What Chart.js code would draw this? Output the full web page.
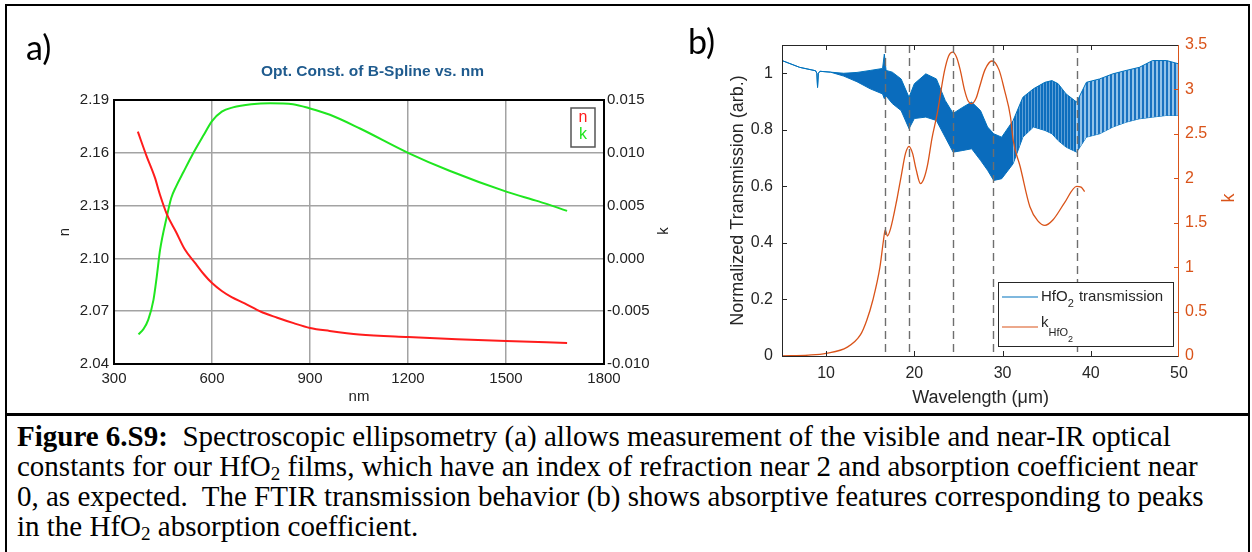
<!DOCTYPE html>
<html>
<head>
<meta charset="utf-8">
<script src="https://cdn.jsdelivr.net/npm/chart.js@4.4.1/dist/chart.umd.min.js"></script>
<style>
  html, body { margin: 0; padding: 0; background: #fff; }
  #page { position: relative; width: 1252px; height: 552px; overflow: hidden; background: #fff; }
  #frame { position: absolute; left: 5px; top: 4px; width: 1245px; height: 600px; border: 2px solid #000; box-sizing: border-box; }
  #sep { position: absolute; left: 5px; top: 413px; width: 1245px; height: 3px; background: #000; }
  .tag { position: absolute; font-family: Lato, "Open Sans", sans-serif; font-size: 34px; line-height: 1; color: #000; }
  #boxA { position: absolute; left: 0; top: 0; width: 690px; height: 410px; }
  #boxB { position: absolute; left: 690px; top: 0; width: 562px; height: 410px; }
  #caption { position: absolute; left: 17px; top: 421px; width: 1230px; white-space: nowrap;
             font-family: "Liberation Serif", "Times New Roman", serif; font-size: 29px; line-height: 30px; color: #000; }
  #caption sub { font-size: 0.66em; vertical-align: -0.2em; line-height: 0; }
</style>
</head>
<body>
<div id="page">
  <div id="frame"></div>
  <div id="sep"></div>
  <div id="boxA"><canvas id="chartA"></canvas></div>
  <div id="boxB"><canvas id="chartB"></canvas></div>
  <div class="tag" style="left:26px;top:30px;">a)</div>
  <div class="tag" style="left:688px;top:24px;">b)</div>
  <div id="caption">
    <b>Figure 6.S9:</b>&nbsp; Spectroscopic ellipsometry (a) allows measurement of the visible and near-IR optical<br>
    constants for our HfO<sub>2</sub> films, which have an index of refraction near 2 and absorption coefficient near<br>
    0, as expected.&nbsp; The FTIR transmission behavior (b) shows absorptive features corresponding to peaks<br>
    in the HfO<sub>2</sub> absorption coefficient.
  </div>
</div>

<script>
// ---------- (a) ellipsometry: refractive index n and extinction k vs. wavelength (nm) ----------
const nmN   = [373, 400, 425, 441, 462, 490, 517, 550, 575, 600, 630, 660, 700, 750, 800, 850, 900, 960, 1050, 1200, 1350, 1500, 1687];
const nVals = [2.172, 2.158, 2.146, 2.136, 2.125, 2.115, 2.105, 2.097, 2.091, 2.086, 2.0815, 2.078, 2.0745, 2.0697, 2.0663, 2.0632, 2.0605, 2.0588, 2.0568, 2.0553, 2.0541, 2.0531, 2.052];

const nmK   = [375, 390, 405, 421, 431, 441, 462, 475, 490, 513, 538, 575, 600, 630, 664, 720, 778, 848, 900, 961, 1053, 1200, 1327, 1503, 1600, 1687];
const kVals = [-0.0072, -0.0067, -0.0058, -0.0039, -0.0017, 0.0008, 0.0040, 0.0057, 0.0068, 0.0082, 0.0097, 0.0117, 0.0130, 0.0139, 0.0143, 0.0146, 0.0147, 0.0146, 0.0142, 0.0136, 0.0123, 0.0100, 0.0083, 0.0063, 0.0054, 0.0045];

const nmTicks = [300, 600, 900, 1200, 1500, 1800];
const nTicks  = [2.04, 2.07, 2.10, 2.13, 2.16, 2.19];
const kTicks  = [-0.010, -0.005, 0.000, 0.005, 0.010, 0.015];

// ---------- (b) FTIR transmission and HfO2 extinction coefficient vs. wavelength (um) ----------
// Transmission: upper and lower envelope of the fringe band
const wlT    = [5, 7, 8.8, 8.95, 9.03, 9.12, 9.3, 10.5, 12, 13.5, 15, 16.4, 16.6, 16.8, 17.5, 18.5, 19.4, 20, 21.3, 22.5, 23.5, 24.4, 25.5, 26.5, 27.5, 28.3, 29.0, 29.9, 31.2, 32.3, 33.5, 34.8, 35.6, 36.3, 37.2, 38.4, 39.5, 41.0, 42.5, 44.0, 45.5, 47.0, 48.6, 50];
const tUpper = [1.045, 1.021, 1.009, 1.0, 0.95, 1.0, 1.007, 1.004, 1.0, 1.003, 1.01, 1.017, 1.068, 1.01, 1.004, 0.98, 0.915, 0.963, 0.998, 0.98, 0.904, 0.858, 0.88, 0.898, 0.868, 0.81, 0.786, 0.774, 0.833, 0.915, 0.945, 0.968, 0.974, 0.963, 0.927, 0.898, 0.968, 0.98, 0.998, 1.01, 1.021, 1.045, 1.045, 1.033];
const tLower = [1.045, 1.021, 1.009, 1.0, 0.95, 1.0, 1.007, 1.004, 0.99, 0.97, 0.945, 0.927, 0.91, 0.92, 0.893, 0.868, 0.804, 0.84, 0.845, 0.833, 0.774, 0.721, 0.727, 0.733, 0.692, 0.657, 0.621, 0.627, 0.68, 0.774, 0.81, 0.798, 0.786, 0.762, 0.739, 0.721, 0.774, 0.786, 0.81, 0.827, 0.839, 0.845, 0.851, 0.851];

const wlK = [5, 8, 10, 12.4, 13.9, 14.6, 15.3, 16.1, 16.5, 16.7, 16.95, 17.3, 18.0, 18.5, 19.0, 19.4, 19.8, 20.2, 20.7, 21.1, 21.5, 22.0, 22.6, 23.4, 23.9, 24.35, 24.8, 25.2, 25.7, 26.1, 26.5, 27.0, 27.4, 28.0, 28.8, 29.6, 30.2, 30.9, 31.2, 32.0, 33.1, 34.0, 34.8, 35.7, 37.0, 38.4, 38.9, 39.3];
const kIR = [0, 0.01, 0.03, 0.1, 0.24, 0.4, 0.63, 1.0, 1.3, 1.42, 1.35, 1.43, 1.75, 2.02, 2.28, 2.36, 2.28, 2.1, 1.94, 2.0, 2.15, 2.45, 2.73, 3.2, 3.38, 3.42, 3.36, 3.22, 2.99, 2.87, 2.84, 2.9, 3.03, 3.22, 3.32, 3.22, 3.0, 2.69, 2.43, 2.13, 1.68, 1.52, 1.47, 1.53, 1.72, 1.91, 1.9, 1.85];

// absorption-peak markers (um)
const peakLines = [16.7, 19.45, 24.4, 28.9, 38.4];

const wlTicks    = [10, 20, 30, 40, 50];
const transTicks = [0, 0.2, 0.4, 0.6, 0.8, 1];
const kirTicks   = [0, 0.5, 1, 1.5, 2, 2.5, 3, 3.5];

const pts = (xs, ys) => xs.map((x, i) => ({ x: x, y: ys[i] }));
const fixTicks = arr => scale => { scale.ticks = arr.map(v => ({ value: v })); };

Chart.defaults.font.family = '"Liberation Sans", Arial, sans-serif';
Chart.defaults.animation = false;

// ---------- panel (a) ----------
const RED = '#ff1c1c', GREEN = '#1fe61f';
const INK_A = '#222';

const frameA = {
  id: 'frameA',
  afterDraw(chart) {
    const { ctx, chartArea: a } = chart;
    ctx.save();
    ctx.strokeStyle = '#000';
    ctx.lineWidth = 2;
    ctx.strokeRect(a.left, a.top, a.right - a.left, a.bottom - a.top);

    // legend box in the upper-right corner
    ctx.strokeStyle = '#555';
    ctx.lineWidth = 1.5;
    ctx.fillStyle = '#fff';
    ctx.fillRect(571, 108, 24, 39);
    ctx.strokeRect(571, 108, 24, 39);
    ctx.font = '16px "Liberation Sans", Arial, sans-serif';
    ctx.textAlign = 'center';
    ctx.textBaseline = 'middle';
    chart.data.datasets.forEach((ds, i) => {
      ctx.fillStyle = ds.borderColor;
      ctx.fillText(ds.label, 583, 118 + i * 17);
    });

    // right-hand axis title
    ctx.translate(664, 231);
    ctx.rotate(-Math.PI / 2);
    ctx.fillStyle = INK_A;
    ctx.font = '15px "Liberation Sans", Arial, sans-serif';
    ctx.fillText('k', 0, 0);
    ctx.restore();
  }
};

new Chart(document.getElementById('chartA'), {
  type: 'line',
  data: {
    datasets: [
      { label: 'n', data: pts(nmN, nVals), yAxisID: 'yN', borderColor: RED, borderWidth: 2, pointRadius: 0, cubicInterpolationMode: 'monotone' },
      { label: 'k', data: pts(nmK, kVals), yAxisID: 'yK', borderColor: GREEN, borderWidth: 2, pointRadius: 0, cubicInterpolationMode: 'monotone' }
    ]
  },
  options: {
    responsive: true, maintainAspectRatio: false, devicePixelRatio: 1,
    layout: { padding: { left: 55, top: 50, right: 0, bottom: 0 } },
    plugins: {
      legend: { display: false },
      tooltip: { enabled: false },
      title: {
        display: true, text: 'Opt. Const. of B-Spline vs. nm', color: '#1f5b8e',
        font: { size: 15.5, weight: 'bold' }, padding: { top: 12.7, bottom: 18.7 }
      }
    },
    scales: {
      x: {
        type: 'linear', min: 300, max: 1800,
        afterBuildTicks: fixTicks(nmTicks),
        afterFit: s => { s.height = 46; },
        grid: { color: '#a3a3a3', lineWidth: 1.5, drawTicks: false },
        border: { display: false },
        ticks: { padding: 6, color: INK_A, font: { size: 15 }, maxRotation: 0, callback: v => String(v) },
        title: { display: true, text: 'nm', color: INK_A, font: { size: 15 }, padding: { bottom: 4 } }
      },
      yN: {
        position: 'left', min: 2.04, max: 2.19,
        afterBuildTicks: fixTicks(nTicks),
        afterFit: s => { s.width = 59; },
        grid: { color: '#a3a3a3', lineWidth: 1.5, drawTicks: false },
        border: { display: false },
        ticks: { padding: 5, color: INK_A, font: { size: 15 }, callback: v => v.toFixed(2) },
        title: { display: true, text: 'n', color: INK_A, font: { size: 15 }, padding: { top: 1 } }
      },
      yK: {
        position: 'right', min: -0.010, max: 0.015,
        afterBuildTicks: fixTicks(kTicks),
        afterFit: s => { s.width = 86; },
        grid: { display: false, drawTicks: false },
        border: { display: false },
        ticks: { padding: 3, color: INK_A, font: { size: 15 }, callback: v => v.toFixed(3) }
      }
    }
  },
  plugins: [frameA]
});

// ---------- panel (b) ----------
const BLUE = '#0072BD', ORANGE = '#D95319', AXIS = '#262626';
const BAND = '#0a6cbd';

// vertical fringe texture for the resolved part of the transmission band
const patterns = {};
function stripes(ctx, key, period, darkW, dark, light) {
  if (!patterns[key]) {
    const c = document.createElement('canvas');
    c.width = period; c.height = 8;
    const g = c.getContext('2d');
    g.fillStyle = light; g.fillRect(0, 0, period, 8);
    g.fillStyle = dark;  g.fillRect(0, 0, darkW, 8);
    patterns[key] = ctx.createPattern(c, 'repeat');
  }
  return patterns[key];
}
const bandSegment = s => {
  const x0 = s.p0.parsed.x;
  if (x0 >= 38.4) return stripes(s.chart.ctx, 'open', 4, 2, '#1a72c0', '#93c3e9');
  if (x0 >= 31.2) return stripes(s.chart.ctx, 'tight', 3, 2, '#0d6ebe', '#5d9fd6');
  return undefined;
};

const decorB = {
  id: 'decorB',
  afterDatasetsDraw(chart) {
    const { ctx, chartArea: a, scales } = chart;
    const xs = scales.x, yT = scales.yT, yK = scales.yK;
    ctx.save();
    // dashed markers at the absorption peaks
    ctx.strokeStyle = '#6e6e6e';
    ctx.lineWidth = 1.4;
    ctx.setLineDash([8, 5]);
    peakLines.forEach(w => {
      const x = Math.round(xs.getPixelForValue(w)) + 0.5;
      ctx.beginPath(); ctx.moveTo(x, a.top); ctx.lineTo(x, a.bottom); ctx.stroke();
    });
    ctx.setLineDash([]);

    // axes box
    ctx.lineWidth = 1;
    ctx.strokeStyle = AXIS;
    ctx.beginPath();
    ctx.moveTo(a.left + 0.5, a.top + 0.5); ctx.lineTo(a.right, a.top + 0.5);
    ctx.moveTo(a.left + 0.5, a.top); ctx.lineTo(a.left + 0.5, a.bottom + 0.5);
    ctx.moveTo(a.left, a.bottom + 0.5); ctx.lineTo(a.right, a.bottom + 0.5);
    // inward ticks
    wlTicks.forEach(w => {
      if (w >= xs.max) return;
      const x = Math.round(xs.getPixelForValue(w)) + 0.5;
      ctx.moveTo(x, a.bottom); ctx.lineTo(x, a.bottom - 5);
      ctx.moveTo(x, a.top); ctx.lineTo(x, a.top + 5);
    });
    transTicks.forEach(v => {
      if (v <= yT.min) return;
      const y = Math.round(yT.getPixelForValue(v)) + 0.5;
      ctx.moveTo(a.left, y); ctx.lineTo(a.left + 5, y);
    });
    ctx.stroke();

    ctx.strokeStyle = ORANGE;
    ctx.beginPath();
    ctx.moveTo(a.right - 0.5, a.top); ctx.lineTo(a.right - 0.5, a.bottom + 1);
    kirTicks.forEach(v => {
      if (v <= yK.min || v >= yK.max) return;
      const y = Math.round(yK.getPixelForValue(v)) + 0.5;
      ctx.moveTo(a.right, y); ctx.lineTo(a.right - 5, y);
    });
    ctx.stroke();

    // right-hand axis title
    ctx.save();
    ctx.translate(539, 198);
    ctx.rotate(-Math.PI / 2);
    ctx.fillStyle = ORANGE;
    ctx.font = '18px "Liberation Sans", Arial, sans-serif';
    ctx.textAlign = 'center';
    ctx.textBaseline = 'middle';
    ctx.fillText('k', 0, 0);
    ctx.restore();

    // legend
    const lx = 308, ly = 282, lw = 175, lh = 64;
    ctx.fillStyle = '#fff';
    ctx.fillRect(lx, ly, lw, lh);
    ctx.strokeStyle = AXIS;
    ctx.lineWidth = 1;
    ctx.strokeRect(lx + 0.5, ly + 0.5, lw, lh);

    ctx.lineWidth = 1.2;
    ctx.strokeStyle = BLUE;
    ctx.beginPath(); ctx.moveTo(lx + 4, ly + 15); ctx.lineTo(lx + 40, ly + 15); ctx.stroke();
    ctx.strokeStyle = ORANGE;
    ctx.beginPath(); ctx.moveTo(lx + 4, ly + 45); ctx.lineTo(lx + 40, ly + 45); ctx.stroke();

    ctx.fillStyle = AXIS;
    ctx.textAlign = 'left';
    ctx.textBaseline = 'alphabetic';
    const big = '15px "Liberation Sans", Arial, sans-serif';
    const mid = '11px "Liberation Sans", Arial, sans-serif';
    const sml = '9px "Liberation Sans", Arial, sans-serif';
    let x = lx + 43;
    ctx.font = big; ctx.fillText('HfO', x, ly + 19); x += ctx.measureText('HfO').width;
    ctx.font = mid; ctx.fillText('2', x, ly + 25); x += ctx.measureText('2').width + 1;
    ctx.font = big; ctx.fillText(' transmission', x, ly + 19);

    x = lx + 43;
    ctx.font = big; ctx.fillText('k', x, ly + 45); x += ctx.measureText('k').width;
    ctx.font = mid; ctx.fillText('HfO', x, ly + 54); x += ctx.measureText('HfO').width;
    ctx.font = sml; ctx.fillText('2', x, ly + 60);
    ctx.restore();
  }
};

new Chart(document.getElementById('chartB'), {
  type: 'line',
  data: {
    datasets: [
      { label: 'kHfO2', data: pts(wlK, kIR), yAxisID: 'yK', borderColor: ORANGE, borderWidth: 1.3, pointRadius: 0, cubicInterpolationMode: 'monotone', fill: false },
      { label: 'HfO2 transmission', data: pts(wlT, tUpper), yAxisID: 'yT', borderColor: BLUE, borderWidth: 1, pointRadius: 0, tension: 0,
        fill: '+1', backgroundColor: BAND, segment: { backgroundColor: bandSegment } },
      { label: 'HfO2 transmission (lower)', data: pts(wlT, tLower), yAxisID: 'yT', borderColor: BLUE, borderWidth: 1, pointRadius: 0, tension: 0, fill: false }
    ]
  },
  options: {
    responsive: true, maintainAspectRatio: false, devicePixelRatio: 1,
    layout: { padding: { left: 34, top: 45, right: 0, bottom: 0 } },
    plugins: { legend: { display: false }, tooltip: { enabled: false }, title: { display: false } },
    scales: {
      x: {
        type: 'linear', min: 5, max: 50,
        afterBuildTicks: fixTicks(wlTicks),
        afterFit: s => { s.height = 54; },
        grid: { display: false, drawTicks: false },
        border: { display: false },
        ticks: { padding: 8, color: AXIS, font: { size: 16 }, maxRotation: 0 },
        title: { display: true, text: 'Wavelength (\u03BCm)', color: AXIS, font: { size: 18 }, padding: { bottom: 1 } }
      },
      yT: {
        position: 'left', min: 0, max: 1.1,
        afterBuildTicks: fixTicks(transTicks),
        afterFit: s => { s.width = 58; },
        grid: { display: false, drawTicks: false },
        border: { display: false },
        ticks: { padding: 9, color: AXIS, font: { size: 16 }, callback: v => String(v) },
        title: { display: true, text: 'Normalized Transmission (arb.)', color: AXIS, font: { size: 18 }, padding: { top: 3 } }
      },
      yK: {
        position: 'right', min: 0, max: 3.5,
        afterBuildTicks: fixTicks(kirTicks),
        afterFit: s => { s.width = 73; },
        grid: { display: false, drawTicks: false },
        border: { display: false },
        ticks: { padding: 6, color: ORANGE, font: { size: 16 }, callback: v => String(v) }
      }
    }
  },
  plugins: [decorB]
});
</script>
</body>
</html>
